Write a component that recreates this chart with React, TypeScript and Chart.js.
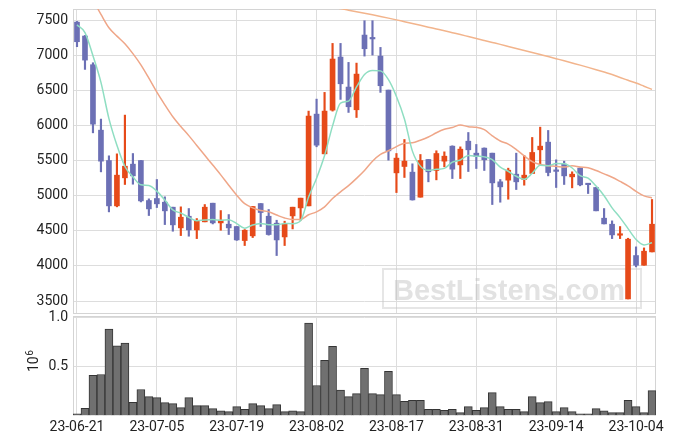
import React, { useEffect, useRef } from 'react';
import { Chart, registerables } from 'chart.js';

Chart.register(...registerables);

// ---- data ----
const dates = [
  '23-06-21', '23-06-22', '23-06-23', '23-06-26', '23-06-27', '23-06-28', '23-06-29', '23-06-30',
  '23-07-03', '23-07-04', '23-07-05', '23-07-06', '23-07-07', '23-07-10', '23-07-11', '23-07-12',
  '23-07-13', '23-07-14', '23-07-17', '23-07-18', '23-07-19', '23-07-20', '23-07-21', '23-07-24',
  '23-07-25', '23-07-26', '23-07-27', '23-07-28', '23-07-31', '23-08-01', '23-08-02', '23-08-03',
  '23-08-04', '23-08-07', '23-08-08', '23-08-09', '23-08-10', '23-08-11', '23-08-14', '23-08-16',
  '23-08-17', '23-08-18', '23-08-21', '23-08-22', '23-08-23', '23-08-24', '23-08-25', '23-08-28',
  '23-08-29', '23-08-30', '23-08-31', '23-09-01', '23-09-04', '23-09-05', '23-09-06', '23-09-07',
  '23-09-08', '23-09-11', '23-09-12', '23-09-13', '23-09-14', '23-09-15', '23-09-18', '23-09-19',
  '23-09-20', '23-09-21', '23-09-22', '23-09-25', '23-09-26', '23-09-27', '23-10-04', '23-10-05',
  '23-10-06',
];

const priceTicks = [3500, 4000, 4500, 5000, 5500, 6000, 6500, 7000, 7500];
const volumeTicks = [500000, 1000000];

const openPrices = [
  7480, 7281, 6872, 5938, 5505, 4858, 5258, 5453, 5505, 4934,
  4963, 4910, 4839, 4544, 4710, 4515, 4630, 4896, 4615, 4596,
  4563, 4363, 4430, 4891, 4710, 4611, 4415, 4715, 4829, 4858,
  6167, 5600, 6224, 6981, 6553, 6229, 7295, 7245, 6995, 6510,
  5329, 5420, 5339, 4982, 5520, 5363, 5496, 5710, 5443, 5781,
  5610, 5682, 5610, 5201, 5225, 5310, 5234, 5320, 5658, 5767,
  5355, 5453, 5272, 5396, 5167, 5120, 4682, 4596, 4439, 3530,
  4149, 4011, 4201,
];

const highPrices = [
  7490, 7290, 6900, 6096, 5572, 5600, 6153, 5605, 5505, 4958,
  5234, 4987, 4839, 4844, 4820, 4677, 4877, 4896, 4791, 4734,
  4563, 4520, 4849, 4891, 4806, 4653, 4639, 4839, 4968, 6210,
  6381, 6477, 7176, 7176, 6905, 6895, 7500, 7500, 7119, 6510,
  5605, 5805, 5458, 5591, 5520, 5644, 5629, 5715, 5700, 5905,
  5734, 5685, 5610, 5234, 5396, 5610, 5577, 5834, 5981, 5934,
  5515, 5496, 5344, 5400, 5170, 5120, 4820, 4644, 4563, 4396,
  4273, 4258, 4949,
];

const lowPrices = [
  7129, 6805, 5900, 5343, 4772, 4844, 5163, 5167, 4914, 4720,
  4834, 4591, 4496, 4434, 4425, 4391, 4630, 4600, 4510, 4449,
  4365, 4292, 4406, 4563, 4440, 4149, 4292, 4529, 4653, 4858,
  5701, 5600, 6210, 6377, 6191, 6119, 6995, 7010, 6477, 5510,
  5048, 5263, 4940, 4982, 5201, 5229, 5415, 5248, 5248, 5348,
  5391, 5363, 4877, 4910, 4953, 5091, 5153, 5320, 5443, 5286,
  5120, 5163, 5115, 5144, 5034, 4787, 4600, 4391, 4391, 3530,
  3987, 4011, 4201,
];

const closePrices = [
  7200, 6938, 6024, 5496, 4858, 5296, 5424, 5286, 4929, 4815,
  4887, 4787, 4587, 4696, 4515, 4644, 4839, 4615, 4653, 4544,
  4372, 4510, 4849, 4763, 4449, 4372, 4596, 4839, 4968, 6139,
  5724, 6210, 6953, 6600, 6272, 6738, 7100, 7240, 6572, 5643,
  5539, 5496, 4943, 5505, 5344, 5605, 5567, 5382, 5667, 5658,
  5562, 5515, 5186, 5129, 5367, 5201, 5296, 5620, 5710, 5334,
  5350, 5286, 5310, 5158, 5160, 4787, 4601, 4444, 4458, 4382,
  4011, 4211, 4596,
];

const volumes = [
  17000, 72000, 410000, 420000, 886000, 714000, 741000, 134000, 266000, 193000,
  183000, 131000, 121000, 79000, 183000, 100000, 100000, 69000, 48000, 38000,
  90000, 62000, 121000, 100000, 69000, 110000, 38000, 48000, 38000, 948000,
  307000, 566000, 710000, 259000, 193000, 224000, 483000, 224000, 214000, 452000,
  214000, 145000, 155000, 155000, 62000, 62000, 52000, 62000, 28000, 90000,
  52000, 79000, 234000, 90000, 62000, 62000, 38000, 193000, 131000, 141000,
  38000, 79000, 38000, 17000, 17000, 69000, 48000, 28000, 28000, 155000,
  90000, 28000, 255000,
];

const ma5 = [
  7440, 7330, 7000, 6620, 6103, 5722, 5420, 5272, 5159, 5150,
  5068, 4941, 4801, 4754, 4694, 4646, 4656, 4662, 4653, 4659,
  4605, 4539, 4586, 4608, 4589, 4589, 4606, 4604, 4645, 4983,
  5253, 5576, 5999, 6325, 6352, 6555, 6733, 6790, 6784, 6659,
  6419, 6098, 5639, 5425, 5365, 5379, 5393, 5481, 5513, 5576,
  5567, 5557, 5518, 5410, 5352, 5280, 5236, 5323, 5439, 5432,
  5462, 5460, 5398, 5288, 5253, 5140, 5003, 4830, 4690, 4534,
  4379, 4301, 4332,
];

const ma20 = [
  8000, 7950, 7790, 7590, 7400, 7280, 7170, 7030, 6870, 6680,
  6480, 6300, 6130, 5990, 5860, 5720, 5580, 5440, 5300, 5152,
  5010, 4889, 4830, 4793, 4773, 4727, 4685, 4663, 4665, 4731,
  4773, 4844, 4963, 5058, 5146, 5250, 5363, 5495, 5591, 5645,
  5704, 5753, 5758, 5795, 5840, 5901, 5950, 5977, 6012, 5988,
  5980, 5945, 5857, 5783, 5738, 5661, 5571, 5490, 5447, 5431,
  5422, 5411, 5430, 5412, 5403, 5362, 5314, 5267, 5207, 5143,
  5065, 5000, 4971,
];

const maLong = [
  null, null, null, null, null, null, null, null, null, null,
  null, null, null, null, null, null, null, null, null, null,
  null, null, null, null, null, null, null, null, null, null,
  null, null, 7700, 7673, 7650, 7628, 7606, 7584, 7561, 7537,
  7512, 7486, 7460, 7434, 7408, 7382, 7356, 7329, 7302, 7274,
  7246, 7218, 7190, 7162, 7133, 7104, 7075, 7046, 7017, 6988,
  6958, 6928, 6897, 6866, 6834, 6801, 6767, 6732, 6690, 6650,
  6610, 6565, 6520,
];

// ---- styles ----
const UP = '#e64a19';
const DOWN = '#6c70b5';
const GRID = '#dddddd';
const FRAME = '#d4d4d4';
const TEXT = '#222222';
const FONT = 'Roboto';

const candleColors = closePrices.map((c, i) => (c >= openPrices[i] ? UP : DOWN));
const gridColorAt = (ctx: any) => (ctx.index % 10 === 0 ? GRID : 'rgba(0,0,0,0)');

const framePlugin = {
  id: 'frame',
  beforeDatasetsDraw(chart: any) {
    const { ctx, chartArea: a } = chart;
    ctx.save();
    ctx.strokeStyle = FRAME;
    ctx.lineWidth = 1;
    ctx.strokeRect(Math.round(a.left) + 0.5, Math.round(a.top) + 0.5, Math.round(a.right - a.left) - 1, Math.round(a.bottom - a.top) - 1);
    ctx.restore();
  },
};

const watermarkPlugin = {
  id: 'watermark',
  beforeDatasetsDraw(chart: any) {
    const { ctx } = chart;
    ctx.save();
    ctx.strokeStyle = 'rgba(200,200,200,0.45)';
    ctx.lineWidth = 2;
    ctx.strokeRect(383, 269, 258, 39);
    ctx.fillStyle = 'rgba(185,185,185,0.42)';
    ctx.font = 'bold 29px "Liberation Sans", Arial, sans-serif';
    ctx.textAlign = 'center';
    ctx.textBaseline = 'alphabetic';
    ctx.fillText('BestListens.com', 509, 300);
    ctx.restore();
  },
};

const expLabelPlugin = {
  id: 'expLabel',
  afterDraw(chart: any) {
    const { ctx } = chart;
    ctx.save();
    ctx.fillStyle = TEXT;
    ctx.textAlign = 'left';
    ctx.textBaseline = 'alphabetic';
    ctx.translate(38, 72);
    ctx.rotate(-Math.PI / 2);
    ctx.font = `14px ${FONT}`;
    ctx.fillText('10', 0, 0);
    const w = ctx.measureText('10').width;
    ctx.font = `10px ${FONT}`;
    ctx.fillText('6', w + 0.5, -5);
    ctx.restore();
  },
};

const fitY = (s: any) => {
  s.width = 73;
  s.paddingTop = 0;
  s.paddingBottom = 0;
};

export default function App() {
  const topRef = useRef<HTMLCanvasElement | null>(null);
  const botRef = useRef<HTMLCanvasElement | null>(null);

  useEffect(() => {
    Chart.defaults.font.family = FONT;
    Chart.defaults.font.size = 14;
    Chart.defaults.color = TEXT;

    const top = new Chart(topRef.current as HTMLCanvasElement, {
      type: 'bar',
      data: {
        labels: dates,
        datasets: [
          {
            type: 'line',
            data: ma5,
            borderColor: '#8fdec2',
            borderWidth: 1.5,
            pointRadius: 0,
            cubicInterpolationMode: 'monotone',
            order: 0,
          } as any,
          {
            type: 'line',
            data: ma20,
            borderColor: '#efa688',
            borderWidth: 1.5,
            pointRadius: 0,
            cubicInterpolationMode: 'monotone',
            order: 0,
          } as any,
          {
            type: 'line',
            data: maLong,
            borderColor: '#f2b48c',
            borderWidth: 1.5,
            pointRadius: 0,
            cubicInterpolationMode: 'monotone',
            spanGaps: false,
            order: 0,
          } as any,
          {
            type: 'bar',
            data: lowPrices.map((l, i) => [l, highPrices[i]]),
            backgroundColor: candleColors,
            barThickness: 1.5,
            grouped: false,
            order: 2,
          } as any,
          {
            type: 'bar',
            data: openPrices.map((o, i) => [o, closePrices[i]]),
            backgroundColor: candleColors,
            barThickness: 5,
            grouped: false,
            minBarLength: 1.5,
            order: 1,
          } as any,
        ],
      },
      options: {
        animation: false,
        responsive: false,
        maintainAspectRatio: false,
        events: [],
        layout: { padding: { top: 9, right: 19, bottom: 2, left: 0 } },
        plugins: { legend: { display: false }, tooltip: { enabled: false } },
        scales: {
          x: {
            type: 'category',
            offset: true,
            grid: { offset: false, drawTicks: false, color: gridColorAt },
            ticks: { display: false, autoSkip: false },
            border: { display: false },
            afterFit: (s: any) => { s.height = 0; s.paddingLeft = 0; s.paddingRight = 0; },
          },
          y: {
            min: 3315,
            max: 7667,
            afterBuildTicks: (s: any) => { s.ticks = priceTicks.map((v) => ({ value: v })); },
            ticks: { padding: 5, color: TEXT, font: { size: 14, family: FONT }, callback: (v: any) => String(v) },
            grid: { color: GRID, drawTicks: false },
            border: { display: false },
            afterFit: fitY,
          },
        },
      } as any,
      plugins: [framePlugin, watermarkPlugin],
    });

    const bot = new Chart(botRef.current as HTMLCanvasElement, {
      type: 'bar',
      data: {
        labels: dates,
        datasets: [
          {
            data: volumes,
            backgroundColor: '#707070',
            borderColor: '#353535',
            borderWidth: 1,
            barPercentage: 1,
            categoryPercentage: 1,
          },
        ],
      },
      options: {
        animation: false,
        responsive: false,
        maintainAspectRatio: false,
        events: [],
        layout: { padding: { top: 16, right: 19, bottom: 0, left: 0 } },
        plugins: { legend: { display: false }, tooltip: { enabled: false } },
        scales: {
          x: {
            type: 'category',
            offset: true,
            grid: { offset: false, drawTicks: false, color: gridColorAt },
            ticks: {
              autoSkip: false,
              maxRotation: 0,
              minRotation: 0,
              padding: 4,
              color: TEXT,
              font: { size: 14, family: FONT },
              callback: (_v: any, i: number) => (i % 10 === 0 ? dates[i] : ''),
            },
            border: { display: false },
            afterFit: (s: any) => { s.height = 28.6; s.paddingLeft = 0; s.paddingRight = 0; },
          },
          y: {
            min: 0,
            max: 1020000,
            afterBuildTicks: (s: any) => { s.ticks = volumeTicks.map((v) => ({ value: v })); },
            ticks: {
              padding: 5,
              color: TEXT,
              font: { size: 14, family: FONT },
              callback: (v: any) => (Number(v) / 1e6).toFixed(1),
            },
            grid: { color: GRID, drawTicks: false },
            border: { display: false },
            afterFit: fitY,
          },
        },
      } as any,
      plugins: [framePlugin, expLabelPlugin],
    });

    return () => {
      top.destroy();
      bot.destroy();
    };
  }, []);

  return (
    <div style={{ position: 'fixed', left: 0, top: 0, width: 675, height: 444, background: '#fff' }}>
      <canvas ref={topRef} width={675} height={316} style={{ position: 'absolute', left: 0, top: 0, display: 'block' }} />
      <canvas ref={botRef} width={675} height={144} style={{ position: 'absolute', left: 0, top: 300, display: 'block' }} />
    </div>
  );
}
